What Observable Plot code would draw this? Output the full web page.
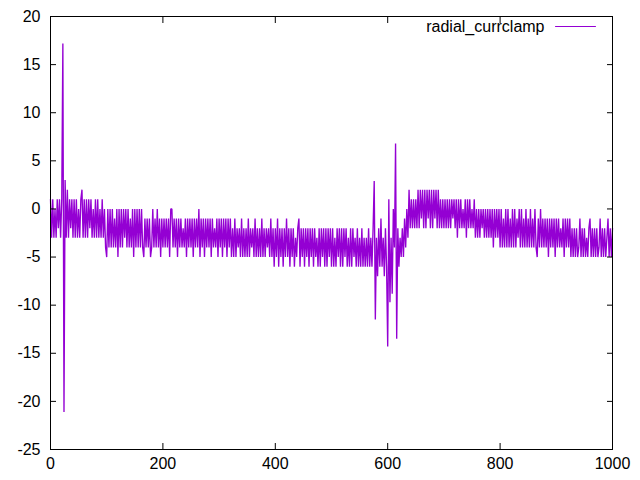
<!DOCTYPE html>
<html><head><meta charset="utf-8">
<script src="https://cdn.jsdelivr.net/npm/d3@7"></script>
<script src="https://cdn.jsdelivr.net/npm/@observablehq/plot@0.6"></script>
<style>html,body{margin:0;padding:0;background:#fff;}</style>
</head><body><div id="chart"></div>
<script>
const seriesName = "radial_currclamp";
const sampleStep = 2; // samples read every 2 units of x
const xTicks = [0, 200, 400, 600, 800, 1000];
const yTicks = [-25, -20, -15, -10, -5, 0, 5, 10, 15, 20];

// values, segment by segment (x = index * sampleStep)
const segA = [1, -3, 1, -3, 0, -3, 1, -2, 1, -3, 1];                         // x 0-20
const segB = [17.2, -21.1];                                                  // x 22-24
const segC = [3, -3, 2, -3, 1, -2, 1, -3, 1, -3, 1, -3, 0, -3, 1, 2, -3];     // x 26-58
const segD = [1, -3, 1, -3, 1, -2, 1, -3, 0, -3, 1, -3, 1, -3, 0, -3, 1, -3, 0, -4]; // x 60-98
const segE1 = [-5, 0, -4, 0, -4, 0, -4, -1, -4, 0, -5, 0, -4, 0, -4, 0, -3, 0, -4, 0,
  -4, -1, -4, 0, -5, 0, -4, 0, -4, 0, -4, 0, -4, -5];                          // x 100-166
const segE2 = [-1, -4, -1, -4, -1, -5, -4, 0, -4, -1, -4, 0, -4, -1, -5, -1, -4, -1, -4, -1,
  -4, -1, -5, 0, 0, -4, -1, -4, -1, -5, -1, -4, -1, -4, -2, -4, -1, -5, -1, -4,
  -1, -4, -1, -5, -1, -4];                                                     // x 168-258
const segF1 = [-1, -4, 0, -5, -1, -4, -1, -5, -1, -4, -1, -4, -1, -5, -1, -4, -2, -4, -1, -5,
  -1, -4, -1, -5, -1, -4, -1, -5, -1, -4];                                     // x 260-318
const segF2 = [-1, -5, -2, -5, -1, -5, -2, -4, -2, -5, -1, -5, -2, -5, -2, -5, -1, -5, -2, -4,
  -2, -5, -1, -5, -2, -5, -2, -5, -1, -5, -2, -5, -2, -4, -2, -5, -1, -5, -2, -6]; // x 320-398
const segG = [-2, -5, -1, -6, -2, -5, -2, -6, -2, -5, -1, -5, -2, -6, -2, -5, -2, -6, -3, -5,
  -2, -1, -6, -2, -5, -2, -6, -2, -5, -2, -6, -2, -5, -2, -6, -2, -5, -3, -6, -2,
  -6, -2, -5, -2, -6, -2, -6, -2, -5, -2, -6, -2, -6, -3, -6, -2, -5, -2, -6, -2,
  -6, -2, -5, -2, -6, -3, -6, -2, -6, -2, -5, -3, -6, -2, -6, -3, -6, -2, -6, -3,
  -6, -3, -6, -2, -6];                                                          // x 400-568
const segH = [-3, -6, -2, 2.9, -11.5, -3, -7, -2, -6, -1, -6, -3, -7, -2, -6, -14.3, 1, -9.7,
  -3, -8.8, 0, -4, 6.8, -13.5, -2, -6, -3, -5, -2, -5, -1, -4, 0, -3, 2, -2];  // x 570-640
const segI = [1, -2, 1, -2, 1, -2, 2, -2, 2, -1, 2, -2, 2, -2, 2, -1, 2, -2, 2, -2,
  2, -1, 2, -2, 2, -2, 1, -2, 1];                                               // x 642-698
const segJ = [-2, 1, -2, 1, -2, 1, -2, 1, -1, 1, -2, 1, -3, 1, -2, 1, -2, 0, -2, 1,
  -3, 1, -2, 1, -2, 0, -2, 1];                                                  // x 700-754
const segK = [-3, 0, -3, 0, -3, 0, -2, 0, -3, 0, -3, 0, -3, 0, -3, 0, -4, 0, -3, 0, -3, 0]; // x 756-798
const segL = [-4, 0, -4, -1, -4, 0, -4, 0, -4, -1, -4, 0, -4, 0, -4, -1, -3, 0, -4, 0,
  -4, -1, -4, 0, -4, -1, -4, 0, -4, -1, -4, 0, -4, -5, -1, -4, 0, -4, -1, -4];  // x 800-878
const segM = [-1, -4, -1, -5, -1, -4, -1, -4, -1, -5, -1, -4, -1, -4, -2, -4, -1, -5, -1, -4,
  -1, -4, -1];                                                                  // x 880-924
const segN = [-5, -2, -5, -2, -5, -2, -5, -4, -1, -5, -2, -5, -2, -5, -3, -5, -2, -1, -5, -2,
  -5, -2, -5, -2, -5, -4, -1, -5, -2, -5, -2, -5, -3, -1, -5, -2, -5, -2];      // x 926-1000

const values = [].concat(segA, segB, segC, segD, segE1, segE2, segF1, segF2, segG,
  segH, segI, segJ, segK, segL, segM, segN);
const data = values.map((v, i) => ({x: i * sampleStep, y: v}));

const lineColor = "#9400d3";
const fmt = d => String(d);
const blank = () => "";

const chart = Plot.plot({
  width: 640, height: 480,
  marginLeft: 50, marginRight: 28, marginTop: 16, marginBottom: 31,
  style: {fontFamily: "'Liberation Sans', Arial, sans-serif", fontSize: "16px", background: "#fff", color: "#000"},
  x: {domain: [0, 1000]},
  y: {domain: [-25, 20]},
  marks: [
    Plot.line(data, {x: "x", y: "y", stroke: lineColor, strokeWidth: 1.35, strokeLinejoin: "miter", strokeMiterlimit: 1}),
    Plot.frame({stroke: "#000", strokeWidth: 1}),
    Plot.axisX(xTicks, {anchor: "bottom", tickSize: 0, tickPadding: 8, tickFormat: fmt, label: null, fontSize: 16}),
    Plot.axisX(xTicks, {anchor: "bottom", tickSize: -6, tickFormat: blank, label: null}),
    Plot.axisX(xTicks, {anchor: "top", tickSize: -6, tickFormat: blank, label: null}),
    Plot.axisY(yTicks, {anchor: "left", tickSize: 0, tickPadding: 10, tickFormat: fmt, label: null, fontSize: 16}),
    Plot.axisY(yTicks, {anchor: "left", tickSize: -6, tickFormat: blank, label: null}),
    Plot.axisY(yTicks, {anchor: "right", tickSize: -6, tickFormat: blank, label: null}),
    Plot.text([seriesName], {frameAnchor: "top-right", text: d => d, textAnchor: "end", lineAnchor: "middle", dx: -68, dy: 10, fontSize: 16, fill: "#000"}),
    Plot.vector([seriesName], {frameAnchor: "top-right", dx: -57, dy: 10, length: 40, rotate: 90, anchor: "start", stroke: lineColor, strokeWidth: 1,
      shape: {draw(ctx, l) { ctx.moveTo(0, 0); ctx.lineTo(0, -l); }}})
  ]
});
document.getElementById("chart").appendChild(chart);
</script>
</body></html>
